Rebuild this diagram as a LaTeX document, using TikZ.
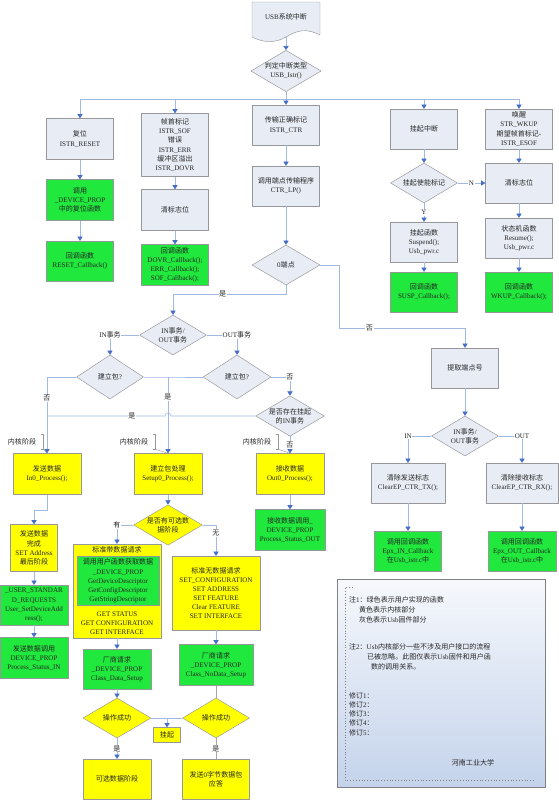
\documentclass[tikz,border=0pt]{standalone}
\usepackage{fontspec}
\setmainfont{Liberation Serif}
\newfontfamily\cjkfont{Noto Sans CJK SC}
% switch to the CJK font for Chinese characters
\XeTeXinterchartokenstate=1
\newXeTeXintercharclass\cjkclass
\count255="3000
\loop
  \XeTeXcharclass\count255=\cjkclass
  \advance\count255 by 1
\ifnum\count255<"A000 \repeat
\count255="FF00
\loop
  \XeTeXcharclass\count255=\cjkclass
  \advance\count255 by 1
\ifnum\count255<"FFF0 \repeat
\XeTeXinterchartoks 0 \cjkclass={\cjkfont}
\XeTeXinterchartoks 4095 \cjkclass={\cjkfont}
\XeTeXinterchartoks \cjkclass 0={\rmfamily}
\XeTeXinterchartoks \cjkclass 4095={\rmfamily}

\usetikzlibrary{shapes.geometric,arrows.meta}
\definecolor{sysfill}{RGB}{232,236,244}
\definecolor{sysline}{RGB}{150,150,155}
\definecolor{userfill}{RGB}{32,232,60}
\definecolor{corefill}{RGB}{255,255,0}
\definecolor{connline}{RGB}{160,185,225}
\definecolor{conntip}{RGB}{68,110,200}
\definecolor{notetop}{RGB}{246,248,252}
\definecolor{notebottom}{RGB}{196,211,235}
\newcommand\px{0.03cm}
\tikzset{
	every node/.style={font=\fontsize{6}{7.8}\selectfont, text=black!85, align=center},
	boxsize/.style 2 args={minimum width={#1*\px}, minimum height={#2*\px}},
	sysbox/.style={draw=sysline, fill=sysfill, inner sep=1pt},
	userbox/.style={draw=sysline, fill=userfill, inner sep=1pt},
	corebox/.style={draw=sysline, fill=corefill, inner sep=1pt},
	sysdec/.style={diamond, aspect=1.7, draw=sysline, fill=sysfill, inner sep=0pt},
	coredec/.style={diamond, aspect=1.7, draw=sysline, fill=corefill, inner sep=0pt},
	link/.style={draw=connline, line width=0.5pt},
	conn/.style={link, -{Triangle[width=4.5pt,length=3.5pt,color=conntip]}},
	graylink/.style={draw=gray!70, line width=0.5pt},
	lbl/.style={fill=white, inner sep=0.6pt},
	callout/.style={draw=gray!80, line width=0.4pt},
	notebox/.style={draw=gray, top color=notetop, bottom color=notebottom}
}

\begin{document}
\begin{tikzpicture}[x=0.03cm, y=-0.03cm, line join=round]
	\useasboundingbox (0,0) rectangle (559,800);

	% interrupt entry
	\draw[draw=sysline, fill=sysfill] (252,2) -- (320,2) -- (320,35)
		.. controls (306,28) and (298,30) .. (286,37)
		.. controls (274,44) and (262,42) .. (252,37) -- cycle;
	\node (usb) at (286,17) {USB系统中断};
	\coordinate (usbbot) at (286,37);
	\node[sysdec, boxsize={68}{40}] (istr) at (286,71) {判定中断类型\\USB\_Istr()};

	% first row
	\node[sysbox, boxsize={67}{41}] (reset) at (80,139) {复位\\ISTR\_RESET};
	\node[sysbox, boxsize={67}{63}] (sof) at (175,145) {帧首标记\\ISTR\_SOF\\错误\\ISTR\_ERR\\缓冲区溢出\\ISTR\_DOVR};
	\node[sysbox, boxsize={67}{40}] (ctr) at (286,125) {传输正确标记\\ISTR\_CTR};
	\node[sysbox, boxsize={67}{40}] (susp) at (424,129) {挂起中断};
	\node[sysbox, boxsize={67}{40}] (wkup) at (519,129) {唤醒\\STR\_WKUP\\期望帧首标记-\\ISTR\_ESOF};

	% second row
	\node[userbox, boxsize={67}{41}] (resetcall) at (80,200) {调用\\\_DEVICE\_PROP\\中的复位函数};
	\node[sysbox, boxsize={67}{41}] (sofclr) at (175,210) {清标志位};
	\node[sysbox, boxsize={67}{40}] (ctrlp) at (286,186) {调用端点传输程序\\CTR\_LP()};
	\node[sysdec, boxsize={67}{40}] (suspen) at (424,183) {挂起使能标记};
	\node[sysbox, boxsize={67}{40}] (wkclr) at (519,183) {清标志位};

	% third row
	\node[userbox, boxsize={67}{40}] (resetcb) at (80,261) {回调函数\\RESET\_Callback()};
	\node[userbox, boxsize={67}{41}] (sofcb) at (175,265) {回调函数\\DOVR\_Callback();\\ERR\_Callback();\\SOF\_Callback();};
	\node[sysdec, boxsize={68}{40}] (ep0) at (286,265) {0端点};
	\node[sysbox, boxsize={67}{40}] (suspfn) at (424,242) {挂起函数\\Suspend();\\Usb\_pwr.c};
	\node[sysbox, boxsize={67}{40}] (resume) at (519,238) {状态机函数\\Resume();\\Usb\_pwr.c};
	\node[userbox, boxsize={67}{40}] (suspcb) at (424,292) {回调函数\\SUSP\_Callback();};
	\node[userbox, boxsize={67}{40}] (wkupcb) at (519,292) {回调函数\\WKUP\_Callback();};

	% endpoint 0
	\node[sysdec, boxsize={67}{40}] (inout) at (173,335) {IN事务/\\OUT事务};
	\node[sysdec, boxsize={67}{44}] (setupin) at (110,377) {建立包?};
	\node[sysdec, boxsize={68}{44}] (setupout) at (237,377) {建立包?};
	\node[sysdec, boxsize={67}{40}] (pending) at (290,416) {是否存在挂起\\的IN事务};
	\node[corebox, boxsize={68}{41}] (in0) at (47,474) {发送数据\\In0\_Process();};
	\node[corebox, boxsize={68}{41}] (setup0) at (168,474) {建立包处理\\Setup0\_Process();};
	\node[corebox, boxsize={68}{41}] (out0) at (290,474) {接收数据\\Out0\_Process();};
	\node[coredec, boxsize={68}{40}] (optdata) at (168,525) {是否有可选数\\据阶段};
	\node[userbox, boxsize={70}{41}] (statusout) at (290,530) {接收数据调用\_\\DEVICE\_PROP\\Process\_Status\_OUT};
	\node[corebox, boxsize={47}{47}] (setaddr) at (34,548) {发送数据\\完成\\SET Address\\最后阶段};
	\node[userbox, boxsize={68}{40}] (userstd) at (34,605) {\_USER\_STANDAR\\D\_REQUESTS\\User\_SetDeviceAdd\\ress();};
	\node[userbox, boxsize={68}{41}] (statusin) at (34,658) {发送数据调用\\DEVICE\_PROP\\Process\_Status\_IN};

	\node[corebox, boxsize={88}{94}] (stddata) at (117,591) {};
	\node (stdtitle) at (117,550) {标准带数据请求};
	\node[userbox, boxsize={82}{49}] (stdcall) at (118,581) {调用用户函数获取数据\\\_DEVICE\_PROP\\GetDeviceDescriptor\\GetConfigDescriptor\\GetStringDescriptor};
	\node (stdget) at (117,623) {GET STATUS\\GET CONFIGURATION\\GET INTERFACE};
	\node[corebox, boxsize={88}{74}] (stdnodata) at (216,593) {标准无数据请求\\SET\_CONFIGURATION\\SET ADDRESS\\SET FEATURE\\Clear FEATURE\\SET INTERFACE};

	\node[userbox, boxsize={68}{40}] (classdata) at (117,669) {厂商请求\\\_DEVICE\_PROP\\Class\_Data\_Setup};
	\node[userbox, boxsize={74}{41}] (classnodata) at (216,665) {厂商请求\\\_DEVICE\_PROP\\Class\_NoData\_Setup};
	\node[coredec, boxsize={68}{40}] (okleft) at (117,718) {操作成功};
	\node[coredec, boxsize={67}{40}] (okright) at (216,718) {操作成功};
	\node[corebox, boxsize={27}{15}] (hang) at (167,735) {挂起};
	\node[corebox, boxsize={68}{40}] (optstage) at (117,779) {可选数据阶段};
	\node[corebox, boxsize={67}{40}] (zlp) at (216,779) {发送0字节数据包\\应答};

	% other endpoints
	\node[sysbox, boxsize={67}{40}] (getep) at (465,368) {提取端点号};
	\node[sysdec, boxsize={67}{40}] (epdir) at (465,436) {IN事务/\\OUT事务};
	\node[sysbox, boxsize={74}{40}] (cleartx) at (408,483) {清除发送标志\\ClearEP\_CTR\_TX();};
	\node[sysbox, boxsize={72}{40}] (clearrx) at (522,483) {清除接收标志\\ClearEP\_CTR\_RX();};
	\node[userbox, boxsize={67}{40}] (epin) at (408,551) {调用回调函数\\Epx\_IN\_Callback\\在Usb\_istr.c中};
	\node[userbox, boxsize={68}{40}] (epout) at (522,551) {调用回调函数\\Epx\_OUT\_Callback\\在Usb\_istr.c中};

	% connectors
	\draw[conn] (usbbot) -- (istr.north);
	\coordinate (bus) at (286,99);
	\draw[link] (istr.south) -- (bus);
	\foreach \n in {reset,sof,ctr,susp,wkup}
		\draw[conn] (bus) -| (\n.north);
	\foreach \src/\dst in {reset/resetcall, resetcall/resetcb, sof/sofclr, sofclr/sofcb,
		ctr/ctrlp, ctrlp/ep0, susp/suspen, suspfn/suspcb, wkup/wkclr, wkclr/resume,
		resume/wkupcb, getep/epdir, cleartx/epin, clearrx/epout, out0/statusout,
		setup0/optdata, setaddr/userstd, userstd/statusin, stddata/classdata,
		stdnodata/classnodata, classdata/okleft}
		\draw[conn] (\src.south) -- (\dst.north);
	\draw[conn] (suspen.south) -- node[lbl]{Y} (suspfn.north);
	\draw[conn] (suspen.east) -- node[lbl]{N} (wkclr.west);

	\draw[conn] (ep0.south) -- ++(0,9) -| node[lbl,pos=0.28]{是} (inout.north);
	\draw[conn] (ep0.east) -- ++(19,0) -- ++(0,63) -| node[lbl,pos=0.12]{否} (getep.north);
	\draw[conn] (inout.west) -| node[lbl,pos=0.5]{IN事务} (setupin.north);
	\draw[conn] (inout.east) -| node[lbl,pos=0.5]{OUT事务} (setupout.north);
	\draw[conn] (setupin.west) -| node[lbl,pos=0.64]{否} (in0.north);
	\coordinate (setupjoin) at (168,377);
	\draw[link] (setupin.east) -- (setupjoin) -- (setupout.west);
	\draw[conn] (setupjoin) -- node[lbl,pos=0.26]{是} (setup0.north);
	\draw[conn] (setupout.east) -| node[lbl,pos=0.5]{否} (pending.north);
	\coordinate (injoin) at (47,416);
	\draw[link] (pending.west) -- (171,416) arc[start angle=0, end angle=-180, radius=3]
		-- node[lbl,pos=0.28]{是} (injoin);
	\draw[conn] (pending.south) -- node[lbl]{否} (out0.north);
	\draw[conn] (in0.south) -- ++(0,16) -| (setaddr.north);

	\draw[conn] (optdata.west) -| node[lbl,pos=0.5]{有} (stddata.north);
	\draw[conn] (optdata.east) -| node[lbl,pos=0.63]{无} (stdnodata.north);
	\draw[graylink] (classnodata.south) -- (okright.north);
	\draw[link] (okleft.east) -- (okright.west);
	\coordinate (hangjoin) at (hang.north |- okleft.east);
	\draw[conn] (hangjoin) -- (hang.north);
	\draw[conn] (okleft.south) -- node[lbl]{是} (optstage.north);
	\draw[graylink] (okright.south) -- node[lbl]{是} (zlp.north);

	\draw[conn] (epdir.west) -| node[lbl,pos=0.5]{IN} (cleartx.north);
	\draw[conn] (epdir.east) -| node[lbl,pos=0.5]{OUT} (clearrx.north);

	% kernel stage callouts
	\foreach \tx/\target in {22/in0, 134/setup0, 257/out0}{
		\node (kn\target) at (\tx,442) {内核阶段};
		\draw[callout] ([xshift=1pt]kn\target.north east) -- ++(2pt,0) |- ([xshift=1pt]kn\target.south east);
		\draw[callout] ([xshift=3pt]kn\target.south east) -- (\target.north);
	}

	% notes
	\node[notebox, boxsize={208}{208}] (note) at (441,683) {};
	\draw[gray, dotted] (352,587) -- (345,587) -- (345,780) -- (535,780);
	\node[anchor=north west, align=left, font=\fontsize{6}{8.5}\selectfont] (note1) at (345,592)
		{注1：绿色表示用户实现的函数\\\hspace*{0.3cm}黄色表示内核部分\\\hspace*{0.3cm}灰色表示Usb固件部分};
	\node[anchor=north west, align=left, font=\fontsize{6}{8.5}\selectfont] (note2) at (345,639)
		{注2：Usb内核部分一些不涉及用户接口的流程\\\hspace*{0.54cm}已被忽略。此图仅表示Usb固件和用户函\\\hspace*{0.66cm}数的调用关系。};
	\node[anchor=north west, align=left, font=\fontsize{6}{7.9}\selectfont] (revs) at (345,688)
		{修订1：\\修订2：\\修订3：\\修订4：\\修订5：};
	\node (uni) at (473,763) {河南工业大学};
\end{tikzpicture}
\end{document}
